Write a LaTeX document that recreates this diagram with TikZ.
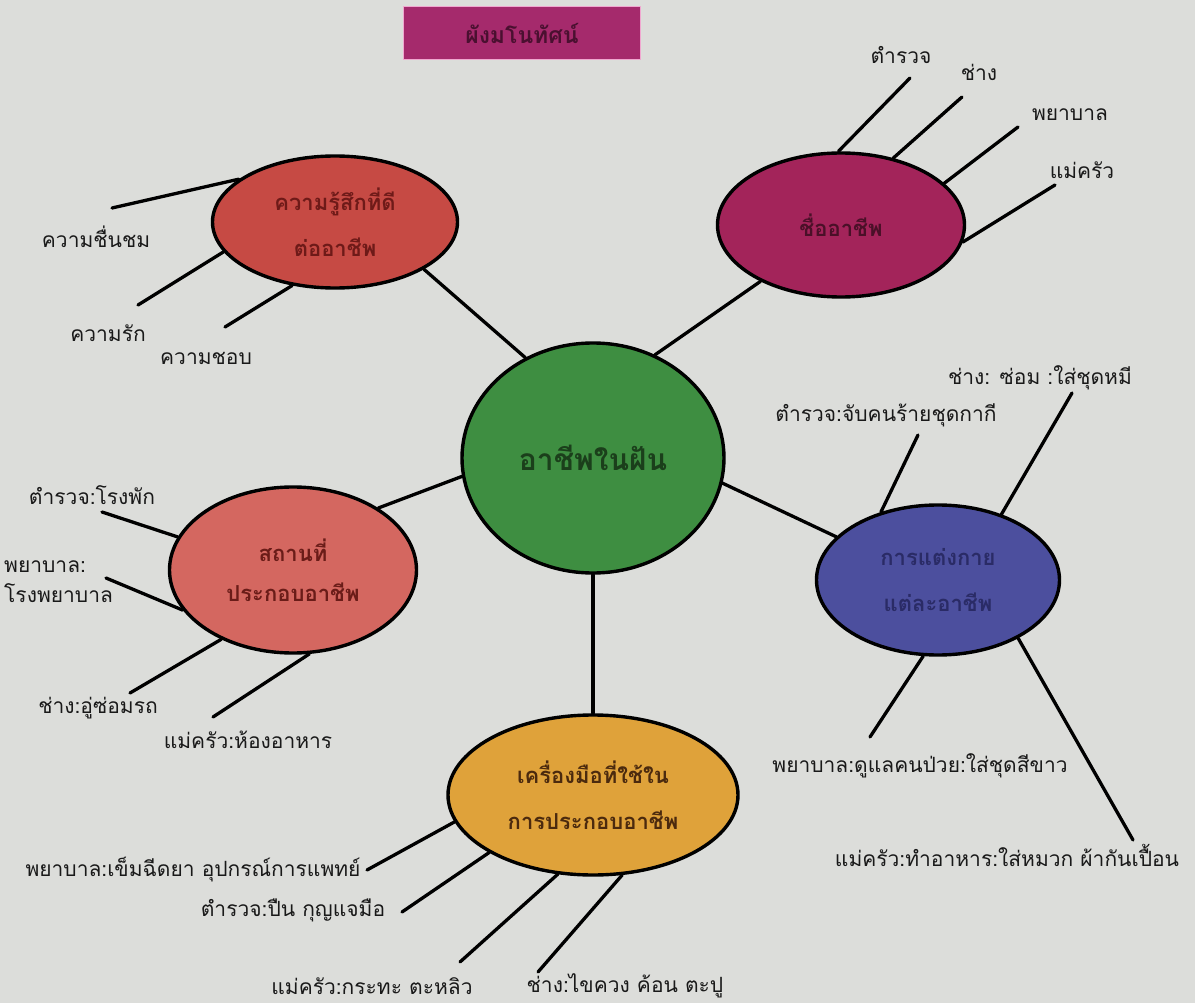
\documentclass[tikz,border=0pt]{standalone}
\usepackage{fontspec}
\setmainfont{Loma}[Script=Thai]
\usetikzlibrary{shapes.geometric}
\definecolor{bgc}{HTML}{DCDDDA}
\definecolor{cfill}{HTML}{3E8E41}\definecolor{ctext}{HTML}{1B3F1B}
\definecolor{tlfill}{HTML}{C64A44}\definecolor{tltext}{HTML}{6E1A18}
\definecolor{trfill}{HTML}{A3245A}\definecolor{trtext}{HTML}{4A1028}
\definecolor{lfill}{HTML}{D46760}\definecolor{ltext}{HTML}{6A1C18}
\definecolor{rfill}{HTML}{4C4F9E}\definecolor{rtext}{HTML}{2A2B66}
\definecolor{bfill}{HTML}{DFA23A}\definecolor{btext}{HTML}{4B2A0E}
\definecolor{tifill}{HTML}{A52A6C}\definecolor{tiborder}{HTML}{F0A8D0}\definecolor{titext}{HTML}{4A1030}
\begin{document}
\begin{tikzpicture}[x=1pt,y=-1pt,
  bub/.style={ellipse, draw=black, line width=3.4pt, inner sep=0pt, align=center,
    font=\bfseries\fontsize{22}{46}\selectfont},
  conn/.style={line width=3.3pt, line cap=round},
  lbl/.style={font=\fontsize{21}{30}\selectfont, inner sep=1pt, text=black!90, align=center}]
\useasboundingbox (0,0) rectangle (1195,1003);
\fill[bgc] (0,0) rectangle (1195,1003);

% title
\node[draw=tiborder, line width=1.5pt, fill=tifill, minimum width=237pt, minimum height=53pt,
  text=titext, font=\bfseries\fontsize{23}{26}\selectfont] (title) at (522,33) {ผังมโนทัศน์};

% main bubbles
\node[bub, fill=cfill, text=ctext, minimum width=262pt, minimum height=230pt,
  font=\bfseries\fontsize{30}{36}\selectfont] (c) at (593,458) {อาชีพในฝัน};
\node[bub, fill=tlfill, text=tltext, minimum width=245pt, minimum height=132pt] (tl) at (335,222) {ความรู้สึกที่ดี\\ต่ออาชีพ};
\node[bub, fill=trfill, text=trtext, minimum width=247pt, minimum height=144pt] (tr) at (841,225) {ชื่ออาชีพ};
\node[bub, fill=lfill, text=ltext, minimum width=247pt, minimum height=166pt,
  font=\bfseries\fontsize{22}{40}\selectfont] (l) at (293,570) {สถานที่\\ประกอบอาชีพ};
\node[bub, fill=rfill, text=rtext, minimum width=243pt, minimum height=150pt] (r) at (938,580) {การแต่งกาย\\แต่ละอาชีพ};
\node[bub, fill=bfill, text=btext, minimum width=290pt, minimum height=160pt] (b) at (593,795) {เครื่องมือที่ใช้ใน\\การประกอบอาชีพ};

% hub connectors
\draw[conn] (c.124.6) -- (tl.-28);
\draw[conn] (c.59.4) -- (tr.215.5);
\draw[conn] (c.188) -- (l.36.8);
\draw[conn] (c.-11.6) -- (r.157);
\draw[conn] (c.270) -- (b.90);

% top-left leaves
\coordinate (tl1) at (112,208);
\coordinate (tl2) at (138,305);
\coordinate (tl3) at (225,327);
\draw[conn] (tl.156) -- (tl1);
\draw[conn] (tl.195.5) -- (tl2);
\draw[conn] (tl.236.7) -- (tl3);
\node[lbl] (tla) at (96,237) {ความชื่นชม};
\node[lbl] (tlb) at (108,333) {ความรัก};
\node[lbl] (tlc) at (206,358) {ความชอบ};

% top-right leaves
\coordinate (tr1) at (910,78);
\coordinate (tr2) at (962,97);
\coordinate (tr3) at (1018,127);
\coordinate (tr4) at (1055,185);
\draw[conn] (tr.92) -- (tr1);
\draw[conn] (tr.52) -- (tr2);
\draw[conn] (tr.22) -- (tr3);
\draw[conn] (tr.-8.4) -- (tr4);
\node[lbl] (tra) at (901,55) {ตำรวจ};
\node[lbl] (trb) at (979,72) {ช่าง};
\node[lbl] (trc) at (1070,115) {พยาบาล};
\node[lbl] (trd) at (1082,170) {แม่ครัว};

% left leaves
\coordinate (l1) at (102,512);
\coordinate (l2) at (106,578);
\coordinate (l3) at (130,693);
\coordinate (l4) at (213,717);
\draw[conn] (l.164.4) -- (l1);
\draw[conn] (l.200.7) -- (l2);
\draw[conn] (l.224.2) -- (l3);
\draw[conn] (l.-79.8) -- (l4);
\node[lbl] (la) at (92,495) {ตำรวจ:โรงพัก};
\node[lbl, anchor=west, align=left] (lb) at (3,582) {พยาบาล:\\โรงพยาบาล};
\node[lbl] (lc) at (98,708) {ช่าง:อู่ซ่อมรถ};
\node[lbl] (ld) at (248,740) {แม่ครัว:ห้องอาหาร};

% right leaves
\coordinate (r1) at (918,435);
\coordinate (r2) at (1072,393);
\coordinate (r3) at (870,737);
\coordinate (r4) at (1133,840);
\draw[conn] (r.130.5) -- (r1);
\draw[conn] (r.46.3) -- (r2);
\draw[conn] (r.259) -- (r3);
\draw[conn] (r.-36.8) -- (r4);
\node[lbl] (ra) at (886,415) {ตำรวจ:จับคนร้ายชุดกากี};
\node[lbl] (rb) at (1040,378) {ช่าง: ซ่อม :ใส่ชุดหมี};
\node[lbl] (rc) at (920,766) {พยาบาล:ดูแลคนป่วย:ใส่ชุดสีขาว};
\node[lbl] (rd) at (1007,855) {แม่ครัว:ทำอาหาร:ใส่หมวก ผ้ากันเปื้อน};

% bottom leaves
\coordinate (b1) at (367,870);
\coordinate (b2) at (402,912);
\coordinate (b3) at (460,962);
\coordinate (b4) at (538,972);
\draw[conn] (b.191) -- (b1);
\draw[conn] (b.209) -- (b2);
\draw[conn] (b.246) -- (b3);
\draw[conn] (b.-70) -- (b4);
\node[lbl] (ba) at (193,870) {พยาบาล:เข็มฉีดยา อุปกรณ์การแพทย์};
\node[lbl] (bb) at (293,910) {ตำรวจ:ปืน กุญแจมือ};
\node[lbl] (bc) at (372,986) {แม่ครัว:กระทะ ตะหลิว};
\node[lbl] (bd) at (625,986) {ช่าง:ไขควง ค้อน ตะปู};
\end{tikzpicture}
\end{document}
